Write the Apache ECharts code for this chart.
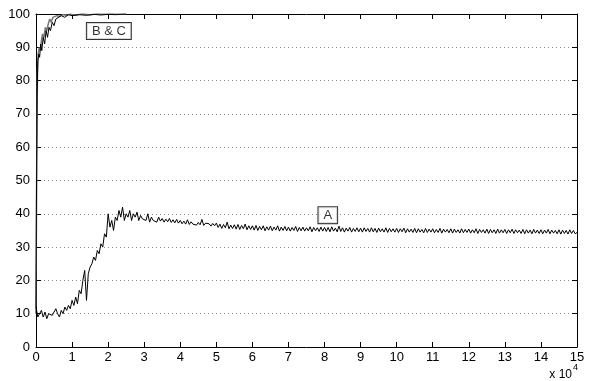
<!DOCTYPE html>
<html><head><meta charset="utf-8">
<script src="https://cdn.jsdelivr.net/npm/echarts@6/dist/echarts.min.js"></script>
<style>html,body{margin:0;padding:0;background:#fff}#c{width:589px;height:381px}</style>
</head><body><div id="c"></div>
<script>
// x axis ticks (units of 10^4)
const xTicks = [0,1,2,3,4,5,6,7,8,9,10,11,12,13,14,15];
const yTicks = [0,10,20,30,40,50,60,70,80,90,100];
// Curve A sampled every 0.05 (x 10^4) from 0 to 15, one row per unit
const aStep = 0.05;
const yA = [
 12,9,10,11,9,10.5,8.5,10,10,9.5,9,11.5,10,9,11,10,12,11,12.5,11.5,
 14,12.5,15,13,17,16,20,23,14,22,24,25,27,26,29,28,31,30,34,33,
 40,36,38,35,39,38,41,39,42,38,40,39,41,38,40,39,40.5,38,39.5,38.5,
 39,38,40,37.5,39,38,38.5,37.5,39,37.8,38.6,37.5,38.4,37.6,38.6,37.4,38.2,37.3,38.3,37.2,
 38,37,37.8,36.9,38.2,36.8,37.6,36.9,37.5,36.6,37.4,36.7,38.3,36.5,37.2,36.6,37,36.3,37.1,36.4,
 37.2,35.9,36.9,35.6,36.8,35.8,37.5,35.5,36.6,35.6,36.7,35.4,36.8,35.3,36.5,35.5,36.9,35.2,36.4,35.3,
 36.4,35.1,36.5,35,36.2,35.2,36.4,34.9,36.1,35.1,36.3,34.9,36,35.1,36.4,34.8,36,35,36.2,34.9,
 36,34.8,35.9,35,36.2,34.7,35.9,34.9,36,34.8,35.8,34.9,36.1,34.6,35.9,34.9,35.8,34.7,36,34.8,
 35.9,34.7,35.9,34.6,36.1,34.8,35.7,34.6,36.3,34.7,35.8,34.5,35.7,34.8,35.9,34.5,35.6,34.7,35.8,34.6,
 35.7,34.5,35.8,34.7,35.6,34.5,35.8,34.6,35.6,34.4,35.7,34.6,35.5,34.5,35.8,34.4,35.6,34.6,35.5,34.5,
 35.6,34.4,35.5,34.6,35.7,34.3,35.5,34.5,35.4,34.4,35.6,34.3,35.5,34.5,35.3,34.3,35.6,34.4,35.4,34.5,
 35.5,34.3,35.3,34.4,35.6,34.2,35.4,34.5,35.3,34.3,35.5,34.2,35.4,34.4,35.2,34.2,35.5,34.3,35.3,34.4,
 35.4,34.2,35.2,34.3,35.5,34.1,35.3,34.4,35.2,34.2,35.4,34.1,35.3,34.3,35.2,34.1,35.4,34.2,35.2,34.3,
 35.3,34.1,35.2,34.3,35.4,34.1,35.2,34.3,35.1,34.1,35.3,34,35.2,34.2,35.1,34,35.3,34.2,35.1,34.1,
 35.2,34,35.1,34.2,35.3,34,35.1,34.2,35,34,35.2,33.9,35.1,34.1,35,33.9,35.2,34.1,35,34,
 34.4
];
// Curve B
const xB = [0,0.01,0.03,0.05,0.08,0.1,0.13,0.16,0.2,0.24,0.28,0.32,0.36,0.4,0.45,0.5,0.55,0.6,0.7,0.8,0.9,1.0,1.2,1.4,1.6,1.8,2.0,2.2,2.5];
const yB = [10,40,75,86,88,87,91,89,93,91,95,93,96,95,97.5,96.5,98.5,98,99.5,99,99.8,99.5,99.8,99.6,99.9,99.7,99.9,99.8,100];
// Curve C
const xC = [0,0.02,0.04,0.06,0.09,0.12,0.15,0.18,0.22,0.26,0.3,0.34,0.38,0.42,0.47,0.52,0.58,0.65,0.75,0.85,0.95,1.1,1.3,1.5,1.7,1.9,2.1,2.3,2.5];
const yC = [12,55,82,88,90,89,92,94,93,96,95,97,98.5,97.5,99,98.8,99.5,99.3,99.8,99.6,99.9,99.7,100,99.8,100,99.9,100,99.9,100];
// Text labels [x, y, text]
const labels = [[2.02,94.9,'B & C'],[8.09,39.6,'A']];

const dataA = yA.map((v,i)=>[+(i*aStep).toFixed(2), v]);
const dataB = xB.map((x,i)=>[x, yB[i]]);
const dataC = xC.map((x,i)=>[x, yC[i]]);

const font = 'Liberation Sans, Arial, sans-serif';
const chart = echarts.init(document.getElementById('c'), null, {renderer:'canvas'});
const axisLine = {show:true, onZero:false, lineStyle:{color:'#000', width:1}};
const tick = {show:true, inside:true, length:5, lineStyle:{color:'#000'}};
chart.setOption({
  animation:false,
  backgroundColor:'#fff',
  grid:{left:36, right:12, top:14, bottom:34, containLabel:false},
  xAxis:[
    {type:'value', min:0, max:15, interval:1, position:'bottom', axisLine, axisTick:tick,
     axisLabel:{color:'#000', fontFamily:font, fontSize:13, margin:4}, splitLine:{show:false}},
    {type:'value', min:0, max:15, interval:1, position:'top', axisLine, axisTick:tick,
     axisLabel:{show:false}, splitLine:{show:false}}
  ],
  yAxis:[
    {type:'value', min:0, max:100, interval:10, position:'left', axisLine, axisTick:tick,
     axisLabel:{color:'#000', fontFamily:font, fontSize:13, margin:6},
     splitLine:{show:true, lineStyle:{color:'#888', type:[1,3], width:1}}},
    {type:'value', min:0, max:100, interval:10, position:'right', axisLine, axisTick:tick,
     axisLabel:{show:false}, splitLine:{show:false}}
  ],
  series:[
    {name:'C', type:'line', data:dataC, showSymbol:false, lineStyle:{color:'#777', width:1.5}, xAxisIndex:0, yAxisIndex:0, clip:true},
    {name:'B', type:'line', data:dataB, showSymbol:false, lineStyle:{color:'#000', width:1}, xAxisIndex:0, yAxisIndex:0, clip:true},
    {name:'A', type:'line', data:dataA, showSymbol:false, lineStyle:{color:'#000', width:1}, xAxisIndex:0, yAxisIndex:0},
    {name:'labels', type:'scatter', symbolSize:0, data:labels.map(l=>({value:[l[0],l[1]], name:l[2]})),
     label:{show:true, position:'inside', formatter:p=>p.name, color:'#000', fontFamily:font, fontSize:13,
       backgroundColor:'#fff', borderColor:'#000', borderWidth:1, padding:[2,5,1,5]}, z:10}
  ],
  graphic:[
    {type:'text', right:17, bottom:0, style:{text:'x 10', fill:'#000', font:'12px '+font}},
    {type:'text', right:11, bottom:9, style:{text:'4', fill:'#000', font:'9px '+font}}
  ]
});
</script></body></html>
